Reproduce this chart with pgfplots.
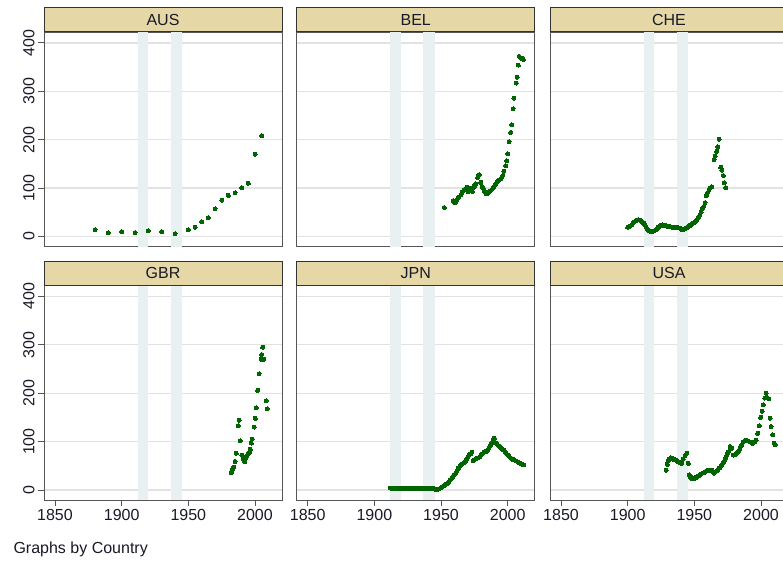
\documentclass[border=0pt]{standalone}
\usepackage{fontspec}
\setmainfont{Liberation Sans}
\usepackage{pgfplots}
\pgfplotsset{compat=1.18}

\definecolor{hdr}{RGB}{229,216,166}
\definecolor{band}{RGB}{233,240,242}
\definecolor{dot}{RGB}{0,100,0}
\definecolor{axc}{RGB}{85,85,85}
\definecolor{gridc}{RGB}{226,226,226}
\definecolor{txt}{RGB}{25,25,40}

\pgfplotsset{
  panel/.style={
    scale only axis, width=238pt, height=214.5pt,
    anchor=south west,
    xmin=1841.75, xmax=2020.25, ymin=-20.7, ymax=422.5,
    xtick={1850,1900,1950,2000}, ytick={0,100,200,300,400},
    xticklabels={}, yticklabels={},
    xtick pos=bottom, ytick pos=left,
    ymajorgrids, major grid style={gridc, line width=1.3pt},
    axis line style={axc, line width=0.9pt},
    major tick length=6pt, tick align=outside,
    xtick style={draw=none}, ytick style={draw=none},
    /pgf/number format/assume math mode=true,
    every axis title/.style={at={(0.5,1)}, anchor=south, fill=hdr, draw=black!80, line width=0.9pt,
      minimum width=238pt, minimum height=24pt, inner sep=0pt, text=txt,
      font=\fontsize{16}{19}\selectfont},
  },
  leftcol/.style={
    yticklabels={0,100,200,300,400},
    ytick style={draw=axc, line width=0.9pt},
    yticklabel style={rotate=90, anchor=south, font=\fontsize{16}{19}\selectfont, text=txt},
  },
  bottomrow/.style={
    xticklabels={1850,1900,1950,2000},
    xtick style={draw=axc, line width=0.9pt},
    xticklabel style={font=\fontsize{16}{19}\selectfont, text=txt},
  },
  pts/.style={only marks, mark=*, mark size=2pt, color=dot, mark options={draw=dot, fill=dot, line width=0pt}},
}

\newcommand{\bands}{%
  \addplot[draw=none, fill=band, forget plot] coordinates {(1912,-30) (1919.7,-30) (1919.7,440) (1912,440)} -- cycle;
  \addplot[draw=none, fill=band, forget plot] coordinates {(1936.8,-30) (1945.6,-30) (1945.6,440) (1936.8,440)} -- cycle;
}

\begin{document}
\begin{tikzpicture}
\useasboundingbox (0,0) rectangle (783pt,564pt);

% ---------- AUS ----------
\begin{axis}[panel, leftcol, at={(44pt,317.5pt)}, title={AUS}]
\bands
\addplot[pts] coordinates {
(1880,14)(1890,8)(1900,10)(1910,8)(1920,12)(1930,10)(1940,5.5)(1950,14)(1955,19)
(1960,30)(1965,39)(1970,57)(1975,75)(1980,85)(1985,90)(1990,101)(1995,110)(2000,170)(2005,208)};
\end{axis}

% ---------- BEL ----------
\begin{axis}[panel, at={(296.7pt,317.5pt)}, title={BEL}]
\bands
\addplot[pts] coordinates {
(1952.5,60)(1959.2,74)(1960.2,70)(1961,72)(1962,76)(1962.5,79)(1963.5,82)(1965,86)(1966,92)
(1967,95)(1967.5,97)(1968.5,99)(1969.2,102)(1970.5,92)(1971,96)(1971.7,100)(1972.5,98)
(1973.5,93)(1974.2,100)(1975,104)(1976,109)(1977.5,122)(1978,125)(1978.7,128)(1979.7,112)
(1981,103)(1981.7,100)(1982.5,94)(1983,92)(1984,88)(1984.7,88)(1985.5,90)(1986.2,92)(1987,94)
(1988,97)(1989,100)(1989.7,102)(1990.5,106)(1991.7,112)(1992.5,114)(1993.5,116)(1995,119)
(1996.2,126)(1997.2,135)(1998.5,146)(1999.2,156)(2000,171)(2001,196)(2002.2,215)(2003,231)
(2004,264)(2004.7,286)(2006.5,317)(2007.2,329)(2008,354)(2008.7,372)(2010.5,368)(2011.7,366)};
\end{axis}

% ---------- CHE ----------
\begin{axis}[panel, at={(550pt,317.5pt)}, title={CHE}]
\bands
\addplot[pts] coordinates {
(1900,19)(1901,20)(1902,22)(1903,24)(1904,27)(1905,30)(1906,32)(1907,34)(1908,35)(1909,34)
(1910,32)(1911,30)(1912,27)(1913,23)(1914,19)(1915,14)(1916,12)(1917,11)(1918,10)(1919,11)
(1920,12)(1921,14)(1922,16)(1923,19)(1924,21)(1925,23)(1926,24)(1927,23)(1928,22)(1929,22)
(1930,21)(1931,20)(1932,20)(1933,19)(1934,19)(1935,19)(1936,19)(1937,18)(1938,18)(1939,17)
(1940,15)(1941,14)(1942,15)(1943,16)(1944,17)(1945,19)(1946,21)(1947,23)(1948,25)(1949,27)
(1950,29)(1951,32)(1952,35)(1953,38)(1954,44)(1955,50)(1956,57)(1957,62)(1958,70)(1959,84)
(1960,91)(1961,97)(1962,101)(1963,103)
(1964.75,159)(1965.5,166)(1966.75,176)(1967.5,185)(1968.5,201)(1969.75,143)(1970.5,137)
(1971.75,126)(1972.5,111)(1973.5,101)};
\end{axis}

% ---------- GBR ----------
\begin{axis}[panel, leftcol, bottomrow, at={(44pt,64pt)}, title={GBR}]
\bands
\addplot[pts] coordinates {
(1982,36)(1982.5,38)(1983,41)(1983.5,45)(1984,47)(1985,59)(1986,76)(1987.5,133)(1988,144)
(1989,102)(1990,72)(1991,67)(1991.7,62)(1992.3,58)(1992.8,64)(1993.3,68)(1994,71)(1995,74)
(1995.8,77)(1996.5,84)(1997.3,97)(1998,105)(1999.5,130)(2000.3,148)(2001,170)(2002,206)
(2003,240)(2004.5,270)(2005,280)(2005.7,295)(2006.5,270)(2008.3,184)(2009.3,168)};
\end{axis}

% ---------- JPN ----------
\begin{axis}[panel, bottomrow, at={(296.7pt,64pt)}, title={JPN}]
\bands
\addplot[pts] coordinates {
(1912,4)(1913,4)(1914,4)(1915,4)(1916,4)(1917,4)(1918,4)(1919,4)(1920,4)(1921,4)(1922,4)
(1923,4)(1924,4)(1925,4)(1926,4)(1927,4)(1928,4)(1929,4)(1930,4)(1931,4)(1932,4)(1933,4)
(1934,4)(1935,4)(1936,4)(1937,4)(1938,4)(1939,4)(1940,4)(1941,4)(1942,4)(1943,4)(1944,4)
(1945,3)(1946,1)(1947,1)(1948,2)(1949,3)(1950,5)(1951,7)(1952,9)(1953,11)(1954,12)(1955,14)
(1956,17)(1957,21)(1958,24)(1959,28)(1960,32)(1961,35)(1962,40)(1963,45)(1964,49)(1965,52)
(1966,54)(1967,56)(1968,58)(1969,63)(1970,68)(1971,72)(1972,74)(1973,78)(1974,61)(1975,62)
(1976,64)(1977,66)(1978,67)(1979,69)(1980,72)(1981,75)(1982,78)(1983,79)(1984,80)(1985,83)
(1986,87)(1987,91)(1988,98)(1989,104)(1990,107)(1991,98)(1992,95)(1993,92)(1994,90)(1995,87)
(1996,84)(1997,82)(1998,79)(1999,76)(2000,73)(2001,70)(2002,67)(2003,65)(2004,63)(2005,62)
(2006,60)(2007,59)(2008,57)(2009,56)(2010,54)(2011,53)(2012,52)};
\end{axis}

% ---------- USA ----------
\begin{axis}[panel, bottomrow, at={(550pt,64pt)}, title={USA}]
\bands
\addplot[pts] coordinates {
(1928.75,41)(1929.75,53)(1930.5,60)(1931.3,64)(1932.25,67)(1933,66)(1933.75,64)(1934.6,63)
(1935.5,62)(1936.4,61)(1937.25,60)(1938,58)(1938.75,57)(1939.6,56)(1940.5,55)(1941.75,64)
(1943,71)(1944.25,76)(1945.5,55)(1946.25,31)(1947.25,26)(1948,24)(1948.75,23)(1949.6,23)
(1950.5,24)(1951.4,26)(1952.25,28)(1953.2,29)(1954.25,31)(1955.2,33)(1956.25,35)(1957.1,36)
(1958,38)(1959.2,40)(1960.5,41)(1961.7,41)(1963,41)(1964,37)(1964.75,35)(1965.7,37)(1966.75,39)
(1967.7,42)(1968.75,45)(1969.6,48)(1970.5,52)(1971.4,55)(1972.25,59)(1973,64)(1973.75,69)
(1974.6,74)(1975.5,79)(1976.75,90)(1978,86)(1979.25,72)(1980.2,73)(1981.25,74)(1982.1,77)
(1983,79)(1983.9,84)(1984.75,90)(1985.7,94)(1986.75,99)(1987.7,101)(1988.75,103)(1989.6,102)
(1990.5,101)(1991.4,100)(1992.25,99)(1993.2,97)(1994.25,97)(1995.2,99)(1996.25,103)(1997.5,117)
(1998.75,133)(1999.75,150)(2000.75,163)(2001.75,176)(2002.8,190)(2003.75,200)(2004.75,191)
(2005.75,188)(2006.75,148)(2007.5,131)(2008.75,114)(2010,97)(2010.5,93)};
\end{axis}

\node[anchor=base west, text=txt, font=\fontsize{16}{19}\selectfont] at (10pt,11pt) {Graphs by Country};
\end{tikzpicture}
\end{document}
